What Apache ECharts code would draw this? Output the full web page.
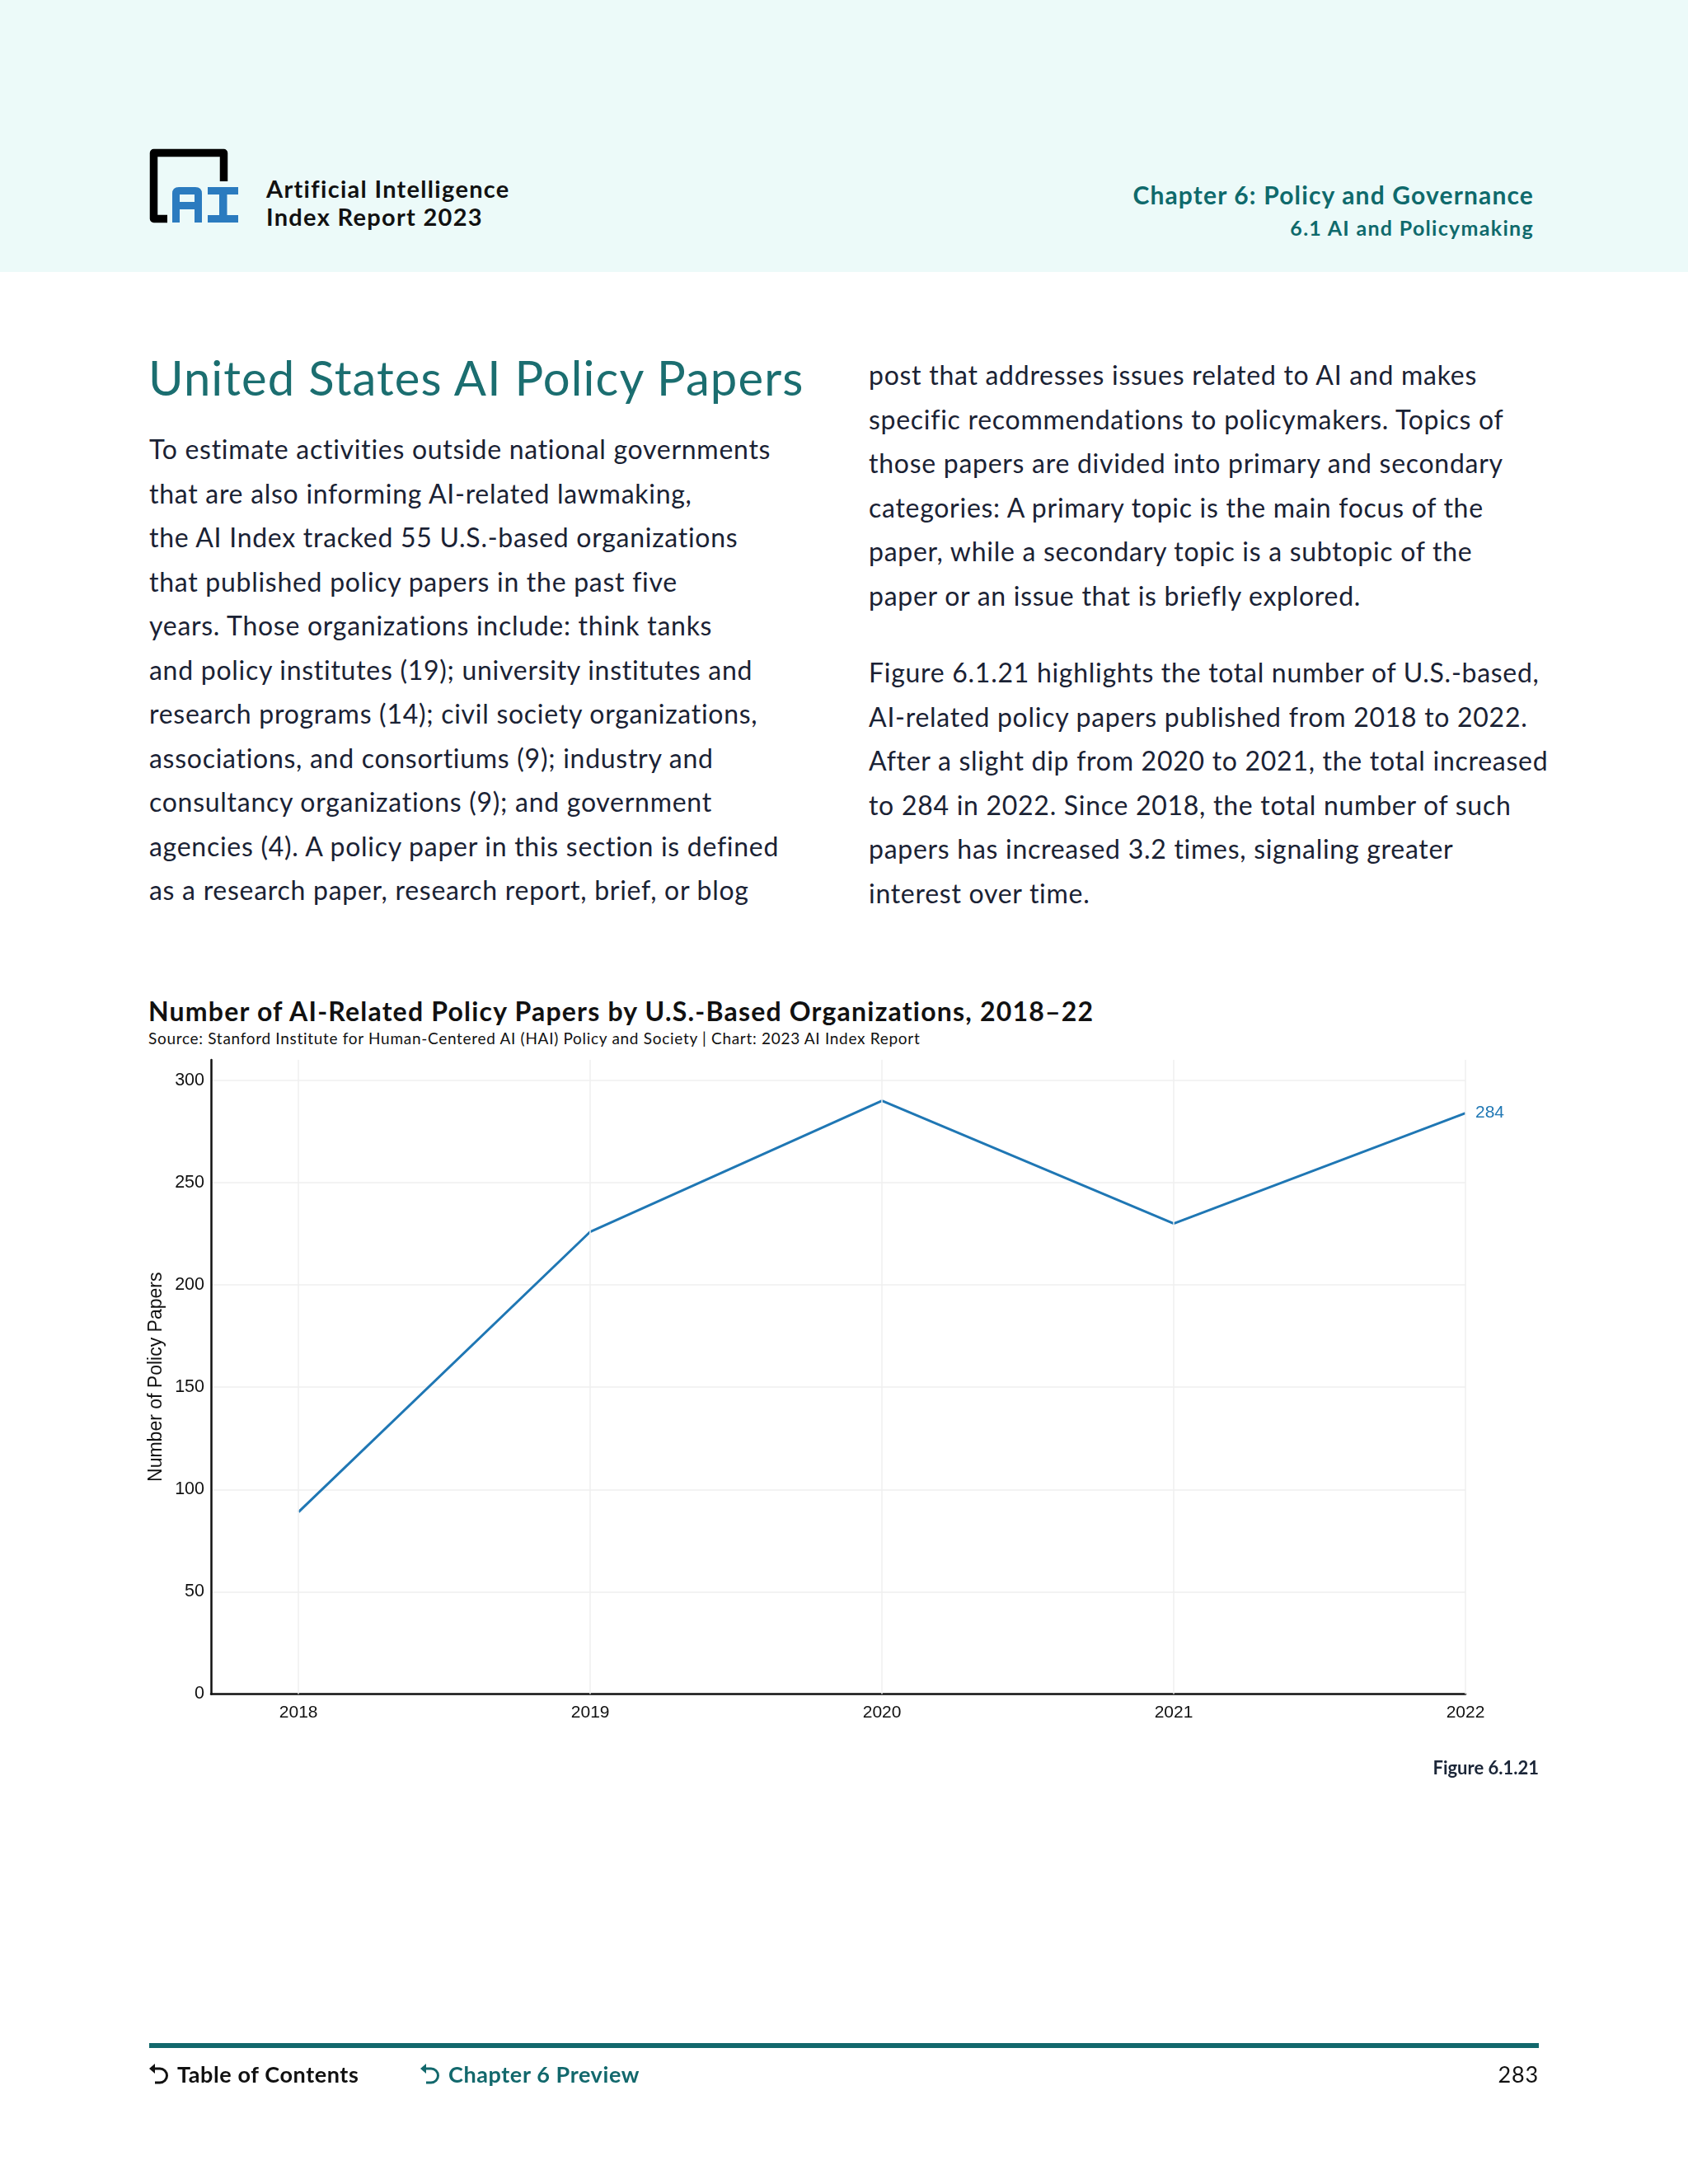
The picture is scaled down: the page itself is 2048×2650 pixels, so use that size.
<!DOCTYPE html>
<html>
<head>
<meta charset="utf-8">
<script src="https://cdn.jsdelivr.net/npm/echarts@6/dist/echarts.min.js"></script>
<style>
  html, body { margin: 0; padding: 0; background: #ffffff; }
  #page { position: relative; width: 2048px; height: 2650px; overflow: hidden; background: #ffffff; font-family: 'Lato', 'Noto Sans', sans-serif; }
  #header { position: absolute; left: 0; top: 0; width: 2048px; height: 330px; background: #ecfaf9; }
  .abs { position: absolute; white-space: pre; }
  #chart { position: absolute; left: 0; top: 0; width: 2048px; height: 2650px; }
</style>
</head>
<body>
<div id="page">
  <div id="header"></div>
  <svg class="abs" style="left:170px;top:170px;" width="140" height="120" viewBox="170 170 140 120">
    <path d="M 203 265.5 H 186.5 V 185.5 H 271.5 V 220" fill="none" stroke="#000" stroke-width="9.5" stroke-linejoin="round"/>
    <path fill="#2b7bbf" fill-rule="evenodd" d="M209 270 V235 Q209 227 217 227 H237 Q245 227 245 235 V270 H236 V254 H218 V270 Z M218 236 H236 V245 H218 Z"/>
    <rect x="252" y="227" width="37" height="9" fill="#2b7bbf"/>
    <rect x="266" y="236" width="9.5" height="25" fill="#2b7bbf"/>
    <rect x="252" y="261" width="37" height="9" fill="#2b7bbf"/>
  </svg>
  <div class="abs" style="left:323px;top:212px;font-size:29px;line-height:34px;font-weight:700;letter-spacing:1.3px;color:#111;">Artificial Intelligence</div>
  <div class="abs" style="left:323px;top:246px;font-size:29px;line-height:34px;font-weight:700;letter-spacing:1.3px;color:#111;">Index Report 2023</div>
  <div class="abs" style="right:187px;top:218px;font-size:30px;line-height:36px;font-weight:700;letter-spacing:1.15px;color:#0f6a6c;text-align:right;">Chapter 6: Policy and Governance</div>
  <div class="abs" style="right:187px;top:261px;font-size:25px;line-height:30px;font-weight:700;letter-spacing:1.3px;color:#0f6a6c;text-align:right;">6.1 AI and Policymaking</div>

  <div class="abs" style="left:180px;top:423px;font-size:58px;line-height:70px;letter-spacing:1.1px;color:#1b6e70;">United States AI Policy Papers</div>

  <div class="abs" style="left:181px;top:518px;font-size:32px;line-height:53.5px;letter-spacing:0.72px;color:#1a2234;">To estimate activities outside national governments
that are also informing AI-related lawmaking,
the AI Index tracked 55 U.S.-based organizations
that published policy papers in the past five
years. Those organizations include: think tanks
and policy institutes (19); university institutes and
research programs (14); civil society organizations,
associations, and consortiums (9); industry and
consultancy organizations (9); and government
agencies (4). A policy paper in this section is defined
as a research paper, research report, brief, or blog</div>

  <div class="abs" style="left:1054px;top:428px;font-size:32px;line-height:53.5px;letter-spacing:0.72px;color:#1a2234;">post that addresses issues related to AI and makes
specific recommendations to policymakers. Topics of
those papers are divided into primary and secondary
categories: A primary topic is the main focus of the
paper, while a secondary topic is a subtopic of the
paper or an issue that is briefly explored.</div>

  <div class="abs" style="left:1054px;top:789px;font-size:32px;line-height:53.5px;letter-spacing:0.72px;color:#1a2234;">Figure 6.1.21 highlights the total number of U.S.-based,
AI-related policy papers published from 2018 to 2022.
After a slight dip from 2020 to 2021, the total increased
to 284 in 2022. Since 2018, the total number of such
papers has increased 3.2 times, signaling greater
interest over time.</div>

  <div id="chart-title" class="abs" style="left:180px;top:1207px;font-size:32px;line-height:40px;font-weight:700;letter-spacing:1.2px;color:#111;"></div>
  <div id="chart-source" class="abs" style="left:180px;top:1248px;font-size:19px;line-height:24px;letter-spacing:0.7px;color:#111;"></div>

  <div id="chart"></div>

  <div class="abs" style="right:181px;top:2131px;font-size:22px;line-height:28px;font-weight:700;color:#1b2638;text-align:right;">Figure 6.1.21</div>

  <div class="abs" style="left:181px;top:2479px;width:1686px;height:6px;background:#12686c;"></div>
  <svg class="abs" style="left:178px;top:2500px;" width="30" height="34" viewBox="178 2500 30 34">
    <path d="M 186 2510 H 194 A 8.5 8.5 0 0 1 194 2527 H 188" fill="none" stroke="#111" stroke-width="3"/>
    <polygon points="181,2510 188,2504 188,2516" fill="#111"/>
  </svg>
  <div class="abs" style="left:215px;top:2500px;font-size:27px;line-height:33px;font-weight:700;letter-spacing:0.6px;color:#111;">Table of Contents</div>
  <svg class="abs" style="left:507px;top:2500px;" width="30" height="34" viewBox="507 2500 30 34">
    <path d="M 515 2510 H 523 A 8.5 8.5 0 0 1 523 2527 H 517" fill="none" stroke="#12686c" stroke-width="3"/>
    <polygon points="510,2510 517,2504 517,2516" fill="#12686c"/>
  </svg>
  <div class="abs" style="left:544px;top:2500px;font-size:27px;line-height:33px;font-weight:700;letter-spacing:0.6px;color:#12686c;">Chapter 6 Preview</div>
  <div class="abs" style="right:181px;top:2500px;font-size:27px;line-height:33px;font-weight:400;letter-spacing:0.8px;color:#111;text-align:right;">283</div>
</div>
<script>
// ---- chart data ----
const years = [2018, 2019, 2020, 2021, 2022];
const papers = [89, 226, 290, 230, 284];
const yTickValues = [0, 50, 100, 150, 200, 250, 300];
const chartTitle = 'Number of AI-Related Policy Papers by U.S.-Based Organizations, 2018–22';
const chartSource = 'Source: Stanford Institute for Human-Centered AI (HAI) Policy and Society | Chart: 2023 AI Index Report';
const yAxisName = 'Number of Policy Papers';

document.getElementById('chart-title').textContent = chartTitle;
document.getElementById('chart-source').textContent = chartSource;

const lineColor = '#1f77b4';
const axisFont = 'Liberation Sans';

const chart = echarts.init(document.getElementById('chart'), null, { renderer: 'canvas' });
chart.setOption({
  animation: false,
  backgroundColor: 'transparent',
  grid: { left: 256, right: 270, top: 1286, bottom: 594.5, containLabel: false },
  xAxis: {
    type: 'value',
    min: 2017.7,
    max: 2022,
    axisLine: { show: true, onZero: false, lineStyle: { color: '#111111', width: 2.5 } },
    axisTick: { show: false },
    splitLine: { show: false },
    axisLabel: {
      customValues: years,
      formatter: v => String(v),
      fontFamily: axisFont, fontSize: 21, color: '#111111', margin: 12
    }
  },
  yAxis: {
    type: 'value',
    min: 0,
    max: 310,
    interval: 50,
    name: yAxisName,
    nameLocation: 'middle',
    nameGap: 54,
    nameRotate: 90,
    nameTextStyle: { fontFamily: axisFont, fontSize: 23, color: '#111111' },
    axisLine: { show: true, lineStyle: { color: '#111111', width: 2.5 } },
    axisTick: { show: false },
    axisLabel: {
      customValues: yTickValues,
      fontFamily: axisFont, fontSize: 21.5, color: '#111111', margin: 8
    },
    splitLine: { show: true, showMaxLine: false, lineStyle: { color: '#efefef', width: 1.5 } }
  },
  series: [{
    type: 'line',
    data: years.map((y, i) => [y, papers[i]]),
    symbol: 'none',
    lineStyle: { color: lineColor, width: 3 },
    itemStyle: { color: lineColor },
    endLabel: {
      show: true,
      formatter: p => String(p.value[1]),
      color: lineColor, fontFamily: axisFont, fontSize: 21, distance: 12
    },
    markLine: {
      silent: true,
      symbol: ['none', 'none'],
      label: { show: false },
      lineStyle: { color: '#efefef', width: 1.5, type: 'solid' },
      data: years.map(y => ({ xAxis: y }))
    },
    z: 3
  }]
});
</script>
</body>
</html>
